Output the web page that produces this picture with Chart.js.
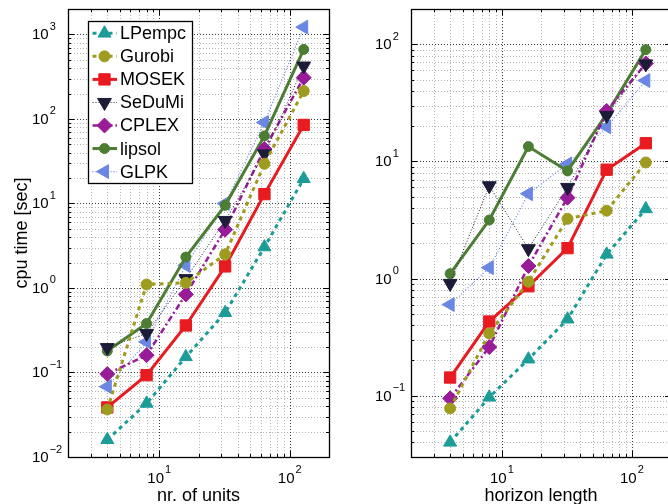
<!DOCTYPE html>
<html><head><meta charset="utf-8">
<script src="https://cdn.jsdelivr.net/npm/chart.js@4.4.0/dist/chart.umd.min.js"></script>
<style>
html,body{margin:0;padding:0;background:#fff;overflow:hidden;width:668px;height:504px;}
#wrap{position:relative;width:668px;height:504px;overflow:hidden;}
canvas{position:absolute;top:0;}
#c1{left:0;} #c2{left:340px;}
</style></head><body><div id="wrap">
<canvas id="c1" width="340" height="504"></canvas>
<canvas id="c2" width="340" height="504"></canvas>
</div>
<script>
// ---------- data ----------
const xValues = [4, 8, 16, 32, 64, 128];
const seriesNames = ['LPempc', 'Gurobi', 'MOSEK', 'SeDuMi', 'CPLEX', 'lipsol', 'GLPK'];

// left panel: cpu time vs nr. of units
const unitsLPempc = [0.016, 0.043, 0.153, 0.51, 3.05, 19.6];
const unitsGurobi = [0.0365, 1.1, 1.15, 2.5, 29.5, 214];
const unitsMOSEK  = [0.0386, 0.093, 0.36, 1.8, 12.9, 85];
const unitsSeDuMi = [0.197, 0.29, 1.29, 6.3, 38.6, 423];
const unitsCPLEX  = [0.096, 0.16, 0.84, 4.9, 44, 308];
const unitsLipsol = [0.18, 0.38, 2.32, 9.5, 63, 665];
const unitsGLPK   = [0.068, 0.23, 1.85, 10, 91, 1220];

// right panel: cpu time vs horizon length
const horizonLPempc = [0.040, 0.097, 0.205, 0.45, 1.61, 3.93];
const horizonGurobi = [0.078, 0.34, 0.94, 3.24, 3.8, 9.8];
const horizonMOSEK  = [0.143, 0.43, 0.86, 1.82, 8.5, 14.3];
const horizonSeDuMi = [0.91, 6.2, 1.8, 6.0, 24.6, 68];
const horizonCPLEX  = [0.095, 0.26, 1.28, 4.9, 27, 68.6];
const horizonLipsol = [1.1, 3.16, 13.4, 8.3, 25.4, 90];
const horizonGLPK   = [0.6, 1.24, 5.3, 9.5, 19.7, 49];

// tick labels (as powers of ten)
const unitsYTickExponents = [-2, -1, 0, 1, 2, 3];
const horizonYTickExponents = [-1, 0, 1, 2];
const xTickExponents = [1, 2];

const unitsSeries = [unitsLPempc, unitsGurobi, unitsMOSEK, unitsSeDuMi, unitsCPLEX, unitsLipsol, unitsGLPK];
const horizonSeries = [horizonLPempc, horizonGurobi, horizonMOSEK, horizonSeDuMi, horizonCPLEX, horizonLipsol, horizonGLPK];

// ---------- styles ----------
const styles = [
  {color: '#1c9c97', dash: [4, 4], width: 3, point: 'triangle', rot: 0, r: 7.5},
  {color: '#9e9c1e', dash: [4, 4], width: 3, point: 'circle', rot: 0, r: 5.5},
  {color: '#e81b20', dash: [], width: 3, point: 'rect', rot: 0, r: 8},
  {color: '#1c1c38', dash: [1, 2], width: 1, point: 'triangle', rot: 180, r: 8},
  {color: '#981c98', dash: [6, 3, 2, 3], width: 2.5, point: 'rectRot', rot: 0, r: 7.5},
  {color: '#4b7d33', dash: [], width: 3, point: 'circle', rot: 0, r: 5},
  {color: '#6a87e4', dash: [1, 2], width: 1.2, point: 'triangle', rot: 270, r: 8}
];
const FONT = '"Liberation Sans", Arial, Helvetica, sans-serif';

function makeDatasets(series) {
  return series.map((vals, i) => {
    const s = styles[i];
    return {
      label: seriesNames[i],
      data: xValues.map((x, k) => ({x: x, y: vals[k]})),
      borderColor: s.color,
      backgroundColor: s.color,
      borderWidth: s.width,
      borderDash: s.dash,
      pointStyle: s.point,
      pointRotation: s.rot,
      pointRadius: s.r,
      pointBorderWidth: 1,
      pointBorderColor: s.color,
      pointBackgroundColor: s.color,
      showLine: true,
      tension: 0,
      fill: false
    };
  });
}

function gridValues(min, max) {
  const out = [];
  for (let d = Math.floor(Math.log10(min)) - 1; d <= Math.ceil(Math.log10(max)); d++) {
    for (let m = 1; m <= 9; m++) {
      const v = m * Math.pow(10, d);
      if (v >= min * 0.9999 && v <= max * 1.0001) out.push({v: v, major: m === 1});
    }
  }
  return out;
}

const matlabAxes = {
  id: 'matlabAxes',
  beforeDatasetsDraw(chart, args, opts) {
    const ctx = chart.ctx, a = chart.chartArea;
    const xs = chart.scales.x, ys = chart.scales.y;
    ctx.save();
    ctx.lineWidth = 1;
    ctx.setLineDash([1, 2]);
    for (const pass of [false, true]) {
      ctx.strokeStyle = pass ? '#3a3a3a' : '#b4b4b4';
      for (const g of gridValues(xs.min, xs.max)) {
        if (g.major !== pass) continue;
        const px = Math.round(xs.getPixelForValue(g.v)) + 0.5;
        ctx.beginPath(); ctx.moveTo(px, a.top); ctx.lineTo(px, a.bottom); ctx.stroke();
      }
      for (const g of gridValues(ys.min, ys.max)) {
        if (g.major !== pass) continue;
        const py = Math.round(ys.getPixelForValue(g.v)) + 0.5;
        ctx.beginPath(); ctx.moveTo(a.left, py); ctx.lineTo(a.right, py); ctx.stroke();
      }
    }
    ctx.restore();
  },
  afterDatasetsDraw(chart, args, opts) {
    const ctx = chart.ctx, a = chart.chartArea;
    const xs = chart.scales.x, ys = chart.scales.y;
    ctx.save();
    ctx.setLineDash([]);
    ctx.strokeStyle = '#000';
    ctx.lineWidth = 1.3;
    ctx.strokeRect(Math.round(a.left) + 0.5, Math.round(a.top) + 0.5, Math.round(a.right - a.left), Math.round(a.bottom - a.top));
    // inward ticks
    ctx.lineWidth = 1;
    for (const g of gridValues(xs.min, xs.max)) {
      const px = Math.round(xs.getPixelForValue(g.v)) + 0.5;
      const L = g.major ? 6 : 3;
      ctx.beginPath();
      ctx.moveTo(px, a.bottom); ctx.lineTo(px, a.bottom - L);
      ctx.moveTo(px, a.top); ctx.lineTo(px, a.top + L);
      ctx.stroke();
    }
    for (const g of gridValues(ys.min, ys.max)) {
      const py = Math.round(ys.getPixelForValue(g.v)) + 0.5;
      const L = g.major ? 6 : 3;
      ctx.beginPath();
      ctx.moveTo(a.left, py); ctx.lineTo(a.left + L, py);
      ctx.moveTo(a.right, py); ctx.lineTo(a.right - L, py);
      ctx.stroke();
    }
    // tick labels
    ctx.fillStyle = '#000';
    ctx.textAlign = 'left';
    ctx.textBaseline = 'alphabetic';
    const expStr = e => (e < 0 ? '\u2212' + Math.abs(e) : String(e));
    for (const e of opts.yExps) {
      const py = ys.getPixelForValue(Math.pow(10, e));
      ctx.font = '15px ' + FONT;
      ctx.fillText('10', opts.yLabelX, py + 5);
      const w = ctx.measureText('10').width;
      ctx.font = '11px ' + FONT;
      ctx.fillText(expStr(e), opts.yLabelX + w + 1, py - 4.5);
    }
    for (const e of opts.xExps) {
      const px = xs.getPixelForValue(Math.pow(10, e));
      ctx.font = '15px ' + FONT;
      const w1 = ctx.measureText('10').width;
      ctx.font = '11px ' + FONT;
      const w2 = ctx.measureText(expStr(e)).width;
      const start = px - (w1 + 1 + w2) / 2;
      ctx.font = '15px ' + FONT;
      ctx.fillText('10', start, 482.5);
      ctx.font = '11px ' + FONT;
      ctx.fillText(expStr(e), start + w1 + 1, 473);
    }
    // axis titles
    ctx.font = '18px ' + FONT;
    ctx.textAlign = 'center';
    ctx.fillText(opts.xTitle, (a.left + a.right) / 2, 501);
    if (opts.yTitle) {
      ctx.save();
      ctx.translate(27, (a.top + a.bottom) / 2);
      ctx.rotate(-Math.PI / 2);
      ctx.fillText(opts.yTitle, 0, 0);
      ctx.restore();
    }
    // legend
    if (opts.legend) {
      const bx = 88, by = 21, bw = 104, bh = 162;
      ctx.fillStyle = '#fff';
      ctx.fillRect(bx, by, bw, bh);
      ctx.strokeStyle = '#000';
      ctx.lineWidth = 1.3;
      ctx.strokeRect(bx + 0.5, by + 0.5, bw, bh);
      chart.data.datasets.forEach((ds, i) => {
        const rowY = 33.3 + i * 23.05;
        ctx.save();
        ctx.strokeStyle = ds.borderColor;
        ctx.lineWidth = ds.borderWidth;
        ctx.setLineDash(ds.borderDash);
        ctx.beginPath(); ctx.moveTo(92.5, rowY); ctx.lineTo(117, rowY); ctx.stroke();
        ctx.setLineDash([]);
        ctx.fillStyle = ds.pointBackgroundColor;
        ctx.strokeStyle = ds.pointBorderColor;
        ctx.lineWidth = 1;
        Chart.helpers.drawPoint(ctx, {pointStyle: ds.pointStyle, rotation: ds.pointRotation, radius: ds.pointRadius, borderWidth: 1}, 104.5, rowY);
        ctx.restore();
        ctx.fillStyle = '#000';
        ctx.font = '18px ' + FONT;
        ctx.textAlign = 'left';
        ctx.textBaseline = 'middle';
        ctx.fillText(ds.label, 120, rowY + 1);
      });
    }
    ctx.restore();
  }
};

function makeChart(id, series, cfg) {
  return new Chart(document.getElementById(id), {
    type: 'scatter',
    data: {datasets: makeDatasets(series)},
    plugins: [matlabAxes],
    options: {
      responsive: false,
      animation: false,
      devicePixelRatio: 1,
      layout: {padding: {top: 7, right: cfg.padRight, left: 0, bottom: 0}},
      plugins: {
        legend: {display: false},
        tooltip: {enabled: false},
        matlabAxes: cfg.axes
      },
      scales: {
        x: {
          type: 'logarithmic', min: 2, max: 200,
          grid: {display: false}, border: {display: false},
          ticks: {display: false},
          afterFit: s => { s.height = 47; }
        },
        y: {
          type: 'logarithmic', min: cfg.ymin, max: cfg.ymax,
          grid: {display: false}, border: {display: false},
          ticks: {display: false},
          afterFit: s => { s.width = cfg.yWidth; }
        }
      }
    }
  });
}

makeChart('c1', unitsSeries, {
  padRight: 11, yWidth: 68, ymin: 0.01, ymax: 2000,
  axes: {yExps: unitsYTickExponents, xExps: xTickExponents, yLabelX: 32, xTitle: 'nr. of units', yTitle: 'cpu time [sec]', legend: true}
});
makeChart('c2', horizonSeries, {
  padRight: 9, yWidth: 71, ymin: 0.03, ymax: 200,
  axes: {yExps: horizonYTickExponents, xExps: xTickExponents, yLabelX: 35, xTitle: 'horizon length', yTitle: '', legend: false}
});
</script>
</body></html>
